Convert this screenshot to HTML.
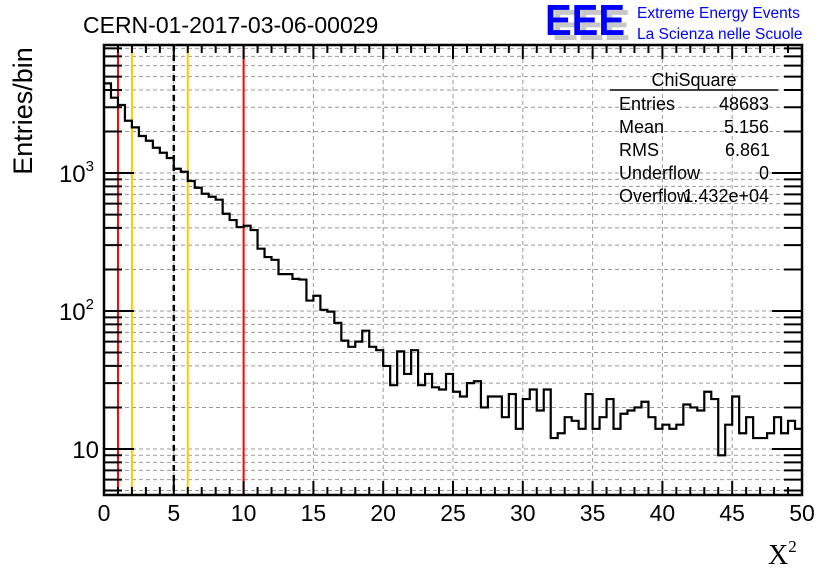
<!DOCTYPE html>
<html><head><meta charset="utf-8"><style>
html,body{margin:0;padding:0;background:#fff;}
svg{display:block;font-family:"Liberation Sans",sans-serif;}
</style></head><body>
<svg id="chart" width="836" height="572" viewBox="0 0 836 572">
<rect x="0" y="0" width="836" height="572" fill="#fff"/>
<g id="grid"></g>
<g id="vlines"></g>
<path id="hist" fill="none" stroke="#000" stroke-width="2.2"/>
<g id="axes"></g>
<text x="83" y="33" font-size="23">CERN-01-2017-03-06-00029</text>
<g>
<text x="552" y="40" font-size="44" font-weight="bold" fill="#c8c8c8" textLength="78" lengthAdjust="spacingAndGlyphs">EEE</text>
<text x="545" y="35" font-size="44" font-weight="bold" fill="#0000ff" textLength="80" lengthAdjust="spacingAndGlyphs">EEE</text>
<text x="637" y="18" font-size="15.5" fill="#0000ff">Extreme Energy Events</text>
<text x="637" y="39" font-size="15.5" fill="#0000ff">La Scienza nelle Scuole</text>
</g>
<g font-size="18">
<text x="694" y="86" text-anchor="middle">ChiSquare</text>
<line x1="610" y1="90" x2="778" y2="90" stroke="#000" stroke-width="1.5"/>
<text x="619" y="110">Entries</text><text x="769" y="110" text-anchor="end">48683</text>
<text x="619" y="133">Mean</text><text x="769" y="133" text-anchor="end">5.156</text>
<text x="619" y="156">RMS</text><text x="770" y="156" text-anchor="end">6.861</text>
<text x="619" y="179">Underflow</text><text x="769" y="179" text-anchor="end">0</text>
<text x="619" y="202">Overflow</text><text x="769" y="202" text-anchor="end">1.432e+04</text>
</g>
<text transform="translate(32,111) rotate(-90)" text-anchor="middle" font-size="27">Entries/bin</text>
<text x="768" y="564" font-size="28" font-family="Liberation Serif,serif">X<tspan font-size="17" dy="-12">2</tspan></text>
</svg>
<script>
const counts = [4467,3515,3111,2393,2143,1854,1714,1525,1403,1285,
1074,1021,875,782,708,673,641,507,456,406,
415,386,283,246,235,185,185,171,169,119,
129,102,99,82,61,55,60,72,55,52,
40,29,51,35,52,29,35,28,27,35,
26,24,30,31,20,24,24,17,25,14,
23,27,19,27,12,13,17,16,14,25,
14,17,23,14,18,19,20,22,17,14,
15,14,15,21,20,19,26,23,9,15,
24,13,17,12,12,13,17,13,16,14];
const binWidth = 0.5;
const xTicks = [0,5,10,15,20,25,30,35,40,45,50];
const yMajor = [10,100,1000];
const yMajorLabels = ["10","10","10"];
const yMajorExp = ["","2","3"];
const markerRed = [1,10];
const markerOrange = [2,6];
const markerMean = [5];

const L=104,R=802,T=45,B=495;
const xMin=0,xMax=50,yMinLog=Math.log10(4.64),yMaxLog=Math.log10(8470);
const sx=v=>L+(v-xMin)/(xMax-xMin)*(R-L);
const sy=v=>B-(Math.log10(v)-yMinLog)/(yMaxLog-yMinLog)*(B-T);
const NS="http://www.w3.org/2000/svg";
function mk(tag,attrs,parent){const e=document.createElementNS(NS,tag);for(const k in attrs)e.setAttribute(k,attrs[k]);parent.appendChild(e);return e;}
const grid=document.getElementById('grid'),axes=document.getElementById('axes'),vl=document.getElementById('vlines');

for(let d=0;d<=3;d++){for(let m=1;m<=9;m++){const v=m*Math.pow(10,d);if(v<4.64||v>8470)continue;
 const y=sy(v);
 const g=mk('line',{x1:L,x2:R,y1:y,y2:y,stroke:'#999','stroke-width':1,'stroke-dasharray':'4,3'},grid);
 
 
 const len=m===1?30:18;
 const t1=mk('line',{x1:L,x2:L+len,y1:y,y2:y,stroke:'#000','stroke-width':2},axes);
 
 
 const t2=mk('line',{x1:R-len,x2:R,y1:y,y2:y,stroke:'#000','stroke-width':2},axes);
 
 
}}
yMajor.forEach((v,i)=>{const y=sy(v);
 const t=mk('text',{x:yMajorExp[i]?94:99,y:y+9,'text-anchor':'end','font-size':24},axes);
 
 
 t.textContent=yMajorLabels[i];
 if(yMajorExp[i]){const s=mk('tspan',{'font-size':15,dy:-11},t);s.textContent=yMajorExp[i];}
});
for(let v=0;v<=50;v++){const x=sx(v);const major=v%5===0;
 if(major&&v>0&&v<50){const g=mk('line',{x1:x,x2:x,y1:T,y2:B,stroke:'#999','stroke-width':1,'stroke-dasharray':'4,3'},grid);
  
  }
 const len=major?14:8;
 mk('line',{x1:x,x2:x,y1:B-len,y2:B,stroke:'#000','stroke-width':2},axes);
 mk('line',{x1:x,x2:x,y1:T,y2:T+len,stroke:'#000','stroke-width':2},axes);
}
xTicks.forEach(v=>{const t=mk('text',{x:sx(v),y:521,'text-anchor':'middle','font-size':23},axes);
 
 
 t.textContent=v;});
const fr=mk('rect',{x:L,y:T,width:R-L,height:B-T,fill:'none',stroke:'#000','stroke-width':2.5},axes);



markerRed.forEach(v=>{const l=mk('line',{x1:sx(v),x2:sx(v),y1:T,y2:B,stroke:'#ff0000','stroke-width':2},vl);
 
 });
markerOrange.forEach(v=>{const l=mk('line',{x1:sx(v),x2:sx(v),y1:T,y2:B,stroke:'#ffcc00','stroke-width':2},vl);
 
 });
markerMean.forEach(v=>{const l=mk('line',{x1:sx(v),x2:sx(v),y1:T,y2:B,stroke:'#000','stroke-width':2.5,'stroke-dasharray':'6,4'},vl);
 
 });

let d='';
counts.forEach((c,i)=>{const x0=sx(i*binWidth),x1=sx((i+1)*binWidth),y=Math.min(B,Math.max(T,sy(c)));
 d+=(i===0?'M'+x0+','+y:'L'+x0+','+y)+' L'+x1+','+y+' ';});
document.getElementById('hist').setAttribute('d',d);
</script>
</body></html>
